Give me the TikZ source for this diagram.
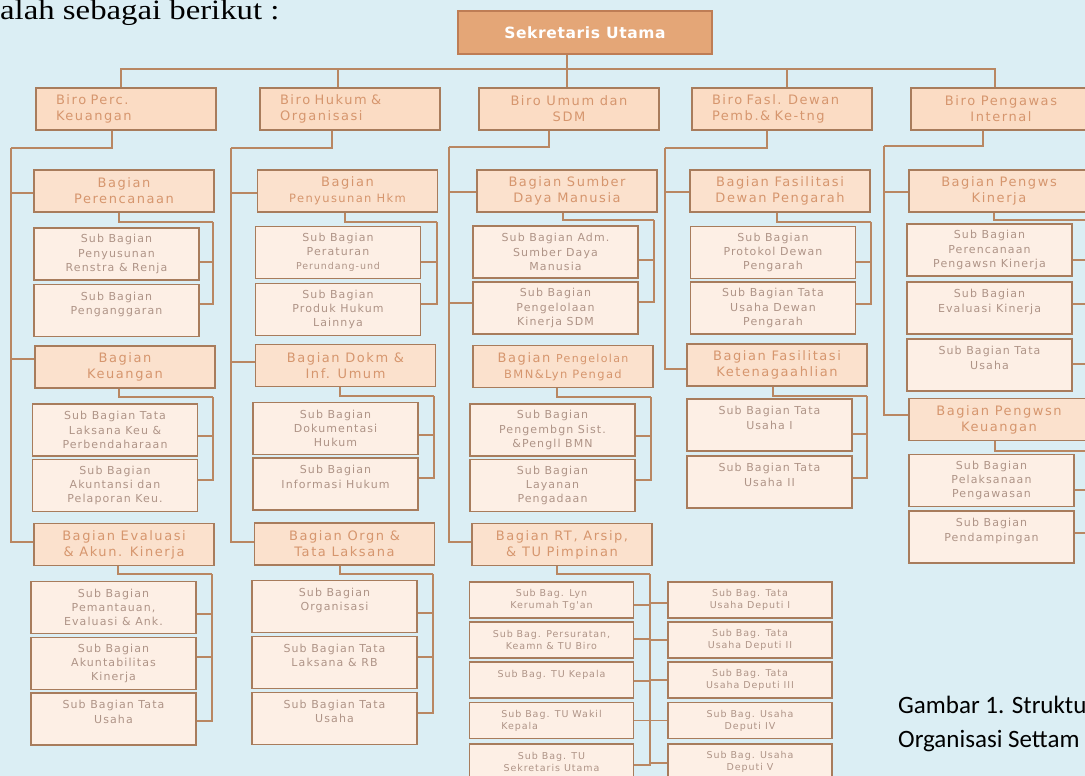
\documentclass[tikz,border=0pt]{standalone}
\usepackage{graphicx}
\usepackage{fontspec}
\newfontfamily\bfam[LetterSpace=12]{DejaVu Sans}
\newfontfamily\tfam[LetterSpace=4]{DejaVu Sans}
\newfontfamily\sfam[LetterSpace=10]{DejaVu Sans}
\newfontfamily\capfont{Carlito}
\newfontfamily\topfont{Liberation Serif}
\definecolor{bgc}{RGB}{219,238,244}
\definecolor{connc}{RGB}{185,135,98}
\definecolor{bordc}{RGB}{168,124,92}
\definecolor{birof}{RGB}{251,220,196}
\definecolor{bagf}{RGB}{251,225,205}
\definecolor{subf}{RGB}{253,239,229}
\definecolor{txo}{RGB}{214,150,110}
\definecolor{txs}{RGB}{175,148,135}
\definecolor{suf}{RGB}{228,166,119}
\definecolor{sud}{RGB}{190,125,85}
\tikzset{
  conn/.style={draw=connc, line width=1.6pt},
  boxbase/.style={draw=bordc, line width=1.2pt, align=center, inner sep=0pt},
  topbox/.style={boxbase, draw=sud, fill=suf, text=white, minimum width=254pt, minimum height=43pt, font=\tfam\bfseries\fontsize{15.5}{18}\selectfont},
  biro/.style={boxbase, fill=birof, text=txo, minimum width=180pt, minimum height=42pt, font=\bfam\fontsize{13}{16}\selectfont},
  biroL/.style={biro, align=left, text width=140pt, inner xsep=20pt},
  bag/.style={boxbase, fill=bagf, text=txo, minimum width=180pt, minimum height=42pt, font=\bfam\fontsize{13}{16}\selectfont},
  subbox/.style={boxbase, fill=subf, text=txs, minimum width=165pt, minimum height=52pt, font=\sfam\fontsize{11}{14.3}\selectfont},
  rts/.style={boxbase, fill=subf, text=txs, minimum width=164pt, minimum height=36pt, font=\sfam\fontsize{9.5}{12}\selectfont},
  captext/.style={anchor=base west, inner sep=0pt, font=\capfont\fontsize{25}{30}\selectfont},
}
\begin{document}
\begin{tikzpicture}[x=1pt,y=-1pt]
\useasboundingbox (0,0) rectangle (1085,776);
\fill[bgc] (0,0) rectangle (1085,776);

\node[anchor=base west, inner sep=0pt, font=\topfont\fontsize{28}{30}\selectfont] (intro) at (0,20) {\scalebox{1.17}[1]{alah sebagai berikut :}};

\node[topbox] (su) at (585,32.5) {Sekretaris Utama};

\node[biroL] (b1) at (126,109) {Biro Perc.\\Keuangan};
\node[biroL] (b2) at (350,109) {Biro Hukum \&\\Organisasi};
\node[biro] (b3) at (569,109) {Biro Umum dan\\SDM};
\node[biroL] (b4) at (782,109) {Biro Fasl. Dewan\\Pemb.\& Ke-tng};
\node[biro] (b5) at (1001,109) {Biro Pengawas\\Internal};

% column 1
\node[bag] (bp) at (124,191) {Bagian\\Perencanaan};
\node[subbox] (s11) at (116.5,254) {Sub Bagian\\Penyusunan\\Renstra \& Renja};
\node[subbox] (s12) at (116.5,310.5) {Sub Bagian\\Penganggaran\\~};
\node[bag] (bk) at (125,367) {Bagian\\Keuangan};
\node[subbox] (s13) at (115,430) {Sub Bagian Tata\\Laksana Keu \&\\Perbendaharaan};
\node[subbox] (s14) at (115,485.5) {Sub Bagian\\Akuntansi dan\\Pelaporan Keu.};
\node[bag] (be) at (124,544.5) {Bagian Evaluasi\\\& Akun. Kinerja};
\node[subbox] (s15) at (113.5,607.5) {Sub Bagian\\Pemantauan,\\Evaluasi \& Ank.};
\node[subbox] (s16) at (113.5,663.5) {Sub Bagian\\Akuntabilitas\\Kinerja};
\node[subbox] (s17) at (113.5,719) {Sub Bagian Tata\\Usaha\\~};

% column 2
\node[bag] (bh) at (347.5,191) {Bagian\\{\fontsize{11.5}{14}\selectfont Penyusunan Hkm}};
\node[subbox] (s21) at (338,252.5) {Sub Bagian\\Peraturan\\{\fontsize{9.5}{12}\selectfont Perundang-und}};
\node[subbox] (s22) at (338,309.5) {Sub Bagian\\Produk Hukum\\Lainnya};
\node[bag] (bd) at (345.5,365.5) {Bagian Dokm \&\\Inf. Umum};
\node[subbox] (s23) at (335.5,428.5) {Sub Bagian\\Dokumentasi\\Hukum};
\node[subbox] (s24) at (335.5,484) {Sub Bagian\\Informasi Hukum\\~};
\node[bag] (bo) at (344.5,544) {Bagian Orgn \&\\Tata Laksana};
\node[subbox] (s25) at (334.5,606.5) {Sub Bagian\\Organisasi\\~};
\node[subbox] (s26) at (334.5,662.5) {Sub Bagian Tata\\Laksana \& RB\\~};
\node[subbox] (s27) at (334.5,718.5) {Sub Bagian Tata\\Usaha\\~};

% column 3
\node[bag] (bs) at (567,191) {Bagian Sumber\\Daya Manusia};
\node[subbox] (s31) at (555.5,252) {Sub Bagian Adm.\\Sumber Daya\\Manusia};
\node[subbox] (s32) at (555.5,308) {Sub Bagian\\Pengelolaan\\Kinerja SDM};
\node[bag] (bb) at (563,366.5) {Bagian {\fontsize{11}{14}\selectfont Pengelolan}\\{\fontsize{11.5}{14}\selectfont BMN\&Lyn Pengad}};
\node[subbox] (s33) at (552.5,430) {Sub Bagian\\Pengembgn Sist.\\\&Pengll BMN};
\node[subbox] (s34) at (552.5,485.5) {Sub Bagian\\Layanan\\Pengadaan};
\node[bag] (br) at (562,544.5) {Bagian RT, Arsip,\\\& TU Pimpinan};
\node[rts] (l1) at (551.5,600) {Sub Bag. Lyn\\Kerumah Tg'an};
\node[rts] (l2) at (551.5,640) {Sub Bag. Persuratan,\\Keamn \& TU Biro};
\node[rts] (l3) at (551.5,680) {Sub Bag. TU Kepala\\~};
\node[rts, align=left] (l4) at (551.5,720.5) {Sub Bag. TU Wakil\\Kepala};
\node[rts] (l5) at (551.5,762) {Sub Bag. TU\\Sekretaris Utama};
\node[rts] (q1) at (750,600) {Sub Bag. Tata\\Usaha Deputi I};
\node[rts] (q2) at (750,640) {Sub Bag. Tata\\Usaha Deputi II};
\node[rts] (q3) at (750,680) {Sub Bag. Tata\\Usaha Deputi III};
\node[rts] (q4) at (750,720.5) {Sub Bag. Usaha\\Deputi IV};
\node[rts] (q5) at (750,762) {Sub Bag. Usaha\\Deputi V};

% column 4
\node[bag] (bf) at (780,191) {Bagian Fasilitasi\\Dewan Pengarah};
\node[subbox] (s41) at (773,252.5) {Sub Bagian\\Protokol Dewan\\Pengarah};
\node[subbox] (s42) at (773,308) {Sub Bagian Tata\\Usaha Dewan\\Pengarah};
\node[bag] (bn) at (777,365) {Bagian Fasilitasi\\Ketenagaahlian};
\node[subbox] (s43) at (769.5,425) {Sub Bagian Tata\\Usaha I\\~};
\node[subbox] (s44) at (769.5,482) {Sub Bagian Tata\\Usaha II\\~};

% column 5
\node[bag] (bw) at (999,191) {Bagian Pengws\\Kinerja};
\node[subbox] (s51) at (989.5,250) {Sub Bagian\\Perencanaan\\Pengawsn Kinerja};
\node[subbox] (s52) at (989.5,308) {Sub Bagian\\Evaluasi Kinerja\\~};
\node[subbox] (s53) at (989.5,365) {Sub Bagian Tata\\Usaha\\~};
\node[bag] (bu) at (999,419.5) {Bagian Pengwsn\\Keuangan};
\node[subbox] (s54) at (991.5,480.5) {Sub Bagian\\Pelaksanaan\\Pengawasan};
\node[subbox] (s55) at (991.5,537) {Sub Bagian\\Pendampingan\\~};

% caption
\node[captext] (cap1) at (898,713) {Gambar 1. Struktu};
\node[captext] (cap2) at (898,747) {Organisasi Settam};

% ---- connectors ----
\coordinate (h) at (567,69);
\draw[conn] ([xshift=-18pt]su.south) -- (h);
\draw[conn] (h) -| ([xshift=-5pt]b1.north);
\draw[conn] (h) -| ([xshift=-12pt]b2.north);
\draw[conn] (h) -| ([xshift=-2pt]b3.north);
\draw[conn] (h) -| ([xshift=5pt]b4.north);
\draw[conn] (h) -| ([xshift=-6pt]b5.north);

% col 1
\coordinate (t1) at (11,148);
\draw[conn] ([xshift=-14pt]b1.south) |- (t1);
\draw[conn] (t1) |- ([yshift=-2pt]bp.west);
\draw[conn] (t1) |- ([yshift=8pt]bk.west);
\draw[conn] (t1) |- ([yshift=2.5pt]be.west);
\coordinate (r1) at (213,222);
\draw[conn] ([xshift=-5pt]bp.south) |- (r1);
\draw[conn] (r1) |- ([yshift=-8pt]s11.east);
\draw[conn] (r1) |- ([yshift=6.5pt]s12.east);
\coordinate (r2) at (213,397);
\draw[conn] ([xshift=-6pt]bk.south) |- (r2);
\draw[conn] (r2) |- ([yshift=-6pt]s13.east);
\draw[conn] (r2) |- ([yshift=5.5pt]s14.east);
\coordinate (r3) at (212,574);
\draw[conn] ([xshift=-6pt]be.south) |- (r3);
\draw[conn] (r3) |- ([yshift=-6.5pt]s15.east);
\draw[conn] (r3) |- ([yshift=6.5pt]s16.east);
\draw[conn] (r3) |- ([yshift=-2pt]s17.east);

% col 2
\coordinate (t2) at (231,148);
\draw[conn] ([xshift=-18pt]b2.south) |- (t2);
\draw[conn] (t2) |- ([yshift=-2pt]bh.west);
\draw[conn] (t2) |- ([yshift=3.5pt]bd.west);
\draw[conn] (t2) |- ([yshift=2pt]bo.west);
\coordinate (r4) at (437,222);
\draw[conn] ([xshift=-2.5pt]bh.south) |- (r4);
\draw[conn] (r4) |- ([yshift=-9.5pt]s21.east);
\draw[conn] (r4) |- ([yshift=5.5pt]s22.east);
\coordinate (r5) at (434,396);
\draw[conn] ([xshift=-5.5pt]bd.south) |- (r5);
\draw[conn] (r5) |- ([yshift=-6.5pt]s23.east);
\draw[conn] (r5) |- ([yshift=6pt]s24.east);
\coordinate (r6) at (433,574);
\draw[conn] ([xshift=-4.5pt]bo.south) |- (r6);
\draw[conn] (r6) |- ([yshift=-6.5pt]s25.east);
\draw[conn] (r6) |- ([yshift=5.5pt]s26.east);
\draw[conn] (r6) |- ([yshift=5.5pt]s27.east);

% col 3
\coordinate (t3) at (449,147);
\draw[conn] ([xshift=-20pt]b3.south) |- (t3);
\draw[conn] (t3) |- ([yshift=-1pt]bs.west);
\draw[conn] (t3) |- ([yshift=5pt]s32.west);
\draw[conn] (t3) |- ([yshift=2.5pt]br.west);
\coordinate (r7) at (654,220);
\draw[conn] ([xshift=-4pt]bs.south) |- (r7);
\draw[conn] (r7) |- ([yshift=-8pt]s31.east);
\draw[conn] (r7) |- ([yshift=6pt]s32.east);
\coordinate (r8) at (651,397);
\draw[conn] ([xshift=-6pt]bb.south) |- (r8);
\draw[conn] (r8) |- ([yshift=-6pt]s33.east);
\draw[conn] (r8) |- ([yshift=5.5pt]s34.east);
\coordinate (r9) at (650,574);
\draw[conn] ([xshift=-5pt]br.south) |- (r9);
\draw[conn] (r9) |- ([yshift=-5pt]l1.east);
\draw[conn] (r9) |- ([yshift=1pt]l2.east);
\draw[conn] (r9) |- ([yshift=-1pt]l3.east);
\draw[conn] (r9) |- (l4.east);
\draw[conn] (r9) |- ([yshift=-3pt]l5.east);
\draw[conn] (r9) |- ([yshift=-3pt]q1.west);
\draw[conn] (r9) |- (q2.west);
\draw[conn] (r9) |- (q3.west);
\draw[conn] (r9) |- (q4.west);
\draw[conn] (r9) |- ([yshift=-1pt]q5.west);

% col 4
\coordinate (t4) at (665,148);
\draw[conn] ([xshift=-15pt]b4.south) |- (t4);
\draw[conn] (t4) |- ([yshift=-1pt]bf.west);
\draw[conn] (t4) |- ([yshift=-4pt]bn.west);
\coordinate (r10) at (871,222);
\draw[conn] ([xshift=-3pt]bf.south) |- (r10);
\draw[conn] (r10) |- ([yshift=-9.5pt]s41.east);
\draw[conn] (r10) |- ([yshift=4pt]s42.east);
\coordinate (r11) at (867,396);
\draw[conn] ([xshift=-4pt]bn.south) |- (r11);
\draw[conn] (r11) |- ([yshift=-9pt]s43.east);
\draw[conn] (r11) |- ([yshift=4pt]s44.east);

% col 5
\coordinate (t5) at (884,146);
\draw[conn] ([xshift=-18pt]b5.south) |- (t5);
\draw[conn] (t5) |- ([yshift=-1pt]bw.west);
\draw[conn] (t5) |- ([yshift=4.5pt]bu.west);
\coordinate (r12) at (1092,220);
\draw[conn] ([xshift=-5pt]bw.south) |- (r12);
\draw[conn] (r12) |- ([yshift=-10pt]s51.east);
\draw[conn] (r12) |- ([yshift=4pt]s52.east);
\draw[conn] (r12) |- ([yshift=1pt]s53.east);
\coordinate (r13) at (1092,451);
\draw[conn] ([xshift=-4pt]bu.south) |- (r13);
\draw[conn] (r13) |- ([yshift=-9.5pt]s54.east);
\draw[conn] (r13) |- ([yshift=4pt]s55.east);
\end{tikzpicture}
\end{document}
